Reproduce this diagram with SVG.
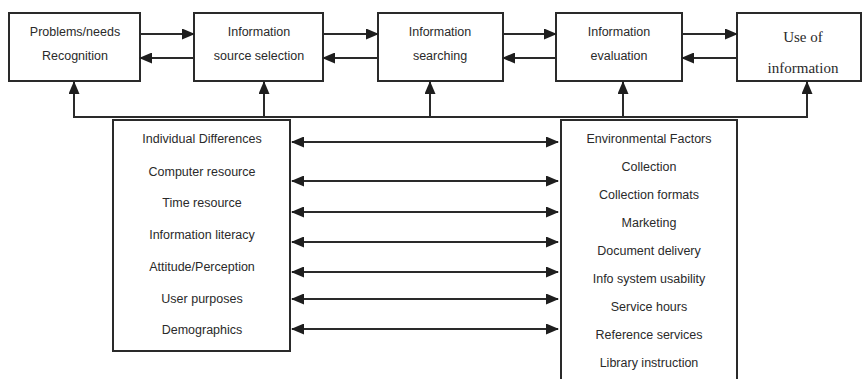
<svg xmlns="http://www.w3.org/2000/svg" width="863" height="379" viewBox="0 0 863 379">
  <style>
    .box { fill: #ffffff; stroke: #2a2a2a; stroke-width: 2; }
    .lbl { font-family: "Liberation Sans", Arial, sans-serif; font-size: 12.5px; fill: #2a2a2a; text-anchor: middle; dominant-baseline: central; }
    .serif { font-family: "Liberation Serif", "Times New Roman", serif; font-size: 15px; fill: #2a2a2a; text-anchor: middle; dominant-baseline: central; }
    .conn { stroke: #2a2a2a; stroke-width: 2; fill: none; }
  </style>
  <defs>
    <marker id="head" viewBox="0 0 13 11" refX="12" refY="5.5" markerWidth="13" markerHeight="11" markerUnits="userSpaceOnUse" orient="auto-start-reverse">
      <path d="M0,0 L13,5.5 L0,11 z" fill="#1e1e1e"/>
    </marker>
  </defs>
  <rect width="863" height="379" fill="#ffffff"/>

  <!-- process stages -->
  <g id="recognition">
    <rect class="box" x="9" y="13" width="131" height="68"/>
    <text class="lbl" x="75" y="32">Problems/needs</text>
    <text class="lbl" x="75" y="56">Recognition</text>
  </g>
  <g id="source-selection">
    <rect class="box" x="194" y="13" width="129" height="68"/>
    <text class="lbl" x="259" y="32">Information</text>
    <text class="lbl" x="259" y="56">source selection</text>
  </g>
  <g id="searching">
    <rect class="box" x="378" y="13" width="125" height="68"/>
    <text class="lbl" x="440" y="32">Information</text>
    <text class="lbl" x="440" y="56">searching</text>
  </g>
  <g id="evaluation">
    <rect class="box" x="556" y="13" width="126" height="68"/>
    <text class="lbl" x="619" y="32">Information</text>
    <text class="lbl" x="619" y="56">evaluation</text>
  </g>
  <g id="use">
    <rect class="box" x="737" y="13" width="124" height="68"/>
    <text class="serif" x="803" y="37">Use of</text>
    <text class="serif" x="803" y="68">information</text>
  </g>

  <!-- influencing factors -->
  <g id="individual">
    <rect class="box" x="113" y="120" width="177" height="231"/>
    <text class="lbl" x="202" y="139">Individual Differences</text>
    <text class="lbl" x="202" y="172">Computer resource</text>
    <text class="lbl" x="202" y="203">Time resource</text>
    <text class="lbl" x="202" y="235">Information literacy</text>
    <text class="lbl" x="202" y="267">Attitude/Perception</text>
    <text class="lbl" x="202" y="299">User purposes</text>
    <text class="lbl" x="202" y="330">Demographics</text>
  </g>
  <g id="environmental">
    <rect class="box" x="561" y="120" width="176" height="270"/>
    <text class="lbl" x="649" y="139">Environmental Factors</text>
    <text class="lbl" x="649" y="167">Collection</text>
    <text class="lbl" x="649" y="195">Collection formats</text>
    <text class="lbl" x="649" y="223">Marketing</text>
    <text class="lbl" x="649" y="251">Document delivery</text>
    <text class="lbl" x="649" y="279">Info system usability</text>
    <text class="lbl" x="649" y="307">Service hours</text>
    <text class="lbl" x="649" y="335">Reference services</text>
    <text class="lbl" x="649" y="363">Library instruction</text>
  </g>

  <g id="connectors">
    <!-- forward / backward flow between stages -->
    <line class="conn" x1="140" y1="34" x2="194" y2="34" marker-end="url(#head)"/>
    <line class="conn" x1="194" y1="58" x2="140" y2="58" marker-end="url(#head)"/>
    <line class="conn" x1="323" y1="34" x2="378" y2="34" marker-end="url(#head)"/>
    <line class="conn" x1="378" y1="58" x2="323" y2="58" marker-end="url(#head)"/>
    <line class="conn" x1="503" y1="34" x2="556" y2="34" marker-end="url(#head)"/>
    <line class="conn" x1="556" y1="58" x2="503" y2="58" marker-end="url(#head)"/>
    <line class="conn" x1="682" y1="34" x2="737" y2="34" marker-end="url(#head)"/>
    <line class="conn" x1="737" y1="58" x2="682" y2="58" marker-end="url(#head)"/>

    <!-- feedback bus into every stage -->
    <line class="conn" x1="73" y1="117" x2="808" y2="117"/>
    <line class="conn" x1="74" y1="117" x2="74" y2="82" marker-end="url(#head)"/>
    <line class="conn" x1="264" y1="117" x2="264" y2="82" marker-end="url(#head)"/>
    <line class="conn" x1="430" y1="117" x2="430" y2="82" marker-end="url(#head)"/>
    <line class="conn" x1="623" y1="117" x2="623" y2="82" marker-end="url(#head)"/>
    <line class="conn" x1="807" y1="117" x2="807" y2="82" marker-end="url(#head)"/>

    <!-- two-way links between factor groups -->
    <line class="conn" x1="292" y1="142" x2="558" y2="142" marker-start="url(#head)" marker-end="url(#head)"/>
    <line class="conn" x1="292" y1="181" x2="558" y2="181" marker-start="url(#head)" marker-end="url(#head)"/>
    <line class="conn" x1="292" y1="212" x2="558" y2="212" marker-start="url(#head)" marker-end="url(#head)"/>
    <line class="conn" x1="292" y1="242" x2="558" y2="242" marker-start="url(#head)" marker-end="url(#head)"/>
    <line class="conn" x1="292" y1="272" x2="558" y2="272" marker-start="url(#head)" marker-end="url(#head)"/>
    <line class="conn" x1="292" y1="299" x2="558" y2="299" marker-start="url(#head)" marker-end="url(#head)"/>
    <line class="conn" x1="292" y1="329" x2="558" y2="329" marker-start="url(#head)" marker-end="url(#head)"/>
  </g>
</svg>
